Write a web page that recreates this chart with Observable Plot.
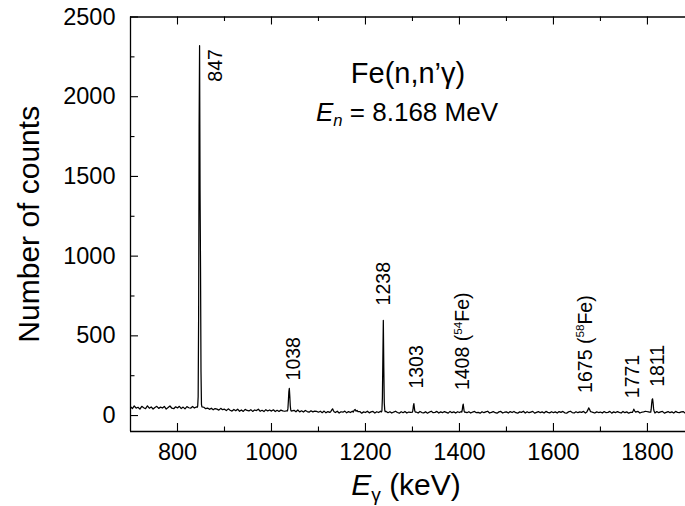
<!DOCTYPE html>
<html>
<head>
<meta charset="utf-8">
<script src="https://cdn.jsdelivr.net/npm/d3@7"></script>
<script src="https://cdn.jsdelivr.net/npm/@observablehq/plot@0.6"></script>
<style>
  html, body { margin: 0; padding: 0; background: #fff; overflow: hidden; }
  #chart svg { font-family: "Liberation Sans", Arial, Helvetica, sans-serif; }
</style>
</head>
<body>
<div id="chart"></div>
<script>
// Gamma-ray spectrum of Fe(n,n'γ) at En = 8.168 MeV.

// Background record: one value every bgStep keV starting at bgStart keV.
const bgStart = 700;
const bgStep = 4;
const bgCounts = [
  55,44,60,47,52,40,58,49,43,61,46,54,41,51,58,45,53,47,57,41,50,60,46,43,55,
  48,58,44,53,42,56,49,46,57,47,54,50,50,50,52,43,47,39,46,36,44,40,34,45,37,
  40,31,42,33,28,38,30,40,27,35,26,39,32,29,37,26,35,31,40,27,33,25,37,29,35,
  28,36,25,33,26,34,29,27,30,30,30,30,33,24,35,23,30,22,32,25,21,30,23,28,26,
  21,27,18,28,17,25,20,29,23,19,27,16,24,21,28,17,25,19,27,22,21,17,25,15,23,
  19,27,17,23,26,16,24,19,27,22,22,26,18,24,16,22,27,19,15,24,18,26,16,22,20,
  23,22,22,16,26,19,17,24,15,22,27,18,20,26,16,23,18,25,20,15,26,18,23,16,24,
  19,26,22,22,18,24,16,22,26,18,20,15,24,18,23,27,16,20,25,18,15,23,26,16,21,
  23,16,25,19,26,18,15,23,20,27,16,24,18,22,26,15,20,25,18,23,16,26,20,17,24,
  18,23,16,25,20,26,17,15,23,27,19,16,24,18,23,20,26,16,22,18,24,20,16,23,19,
  22,16,25,18,20,26,15,23,18,25,20,16,26,18,23,15,20,25,18,23,26,16,21,23,27,
  24,22,22,20,16,25,18,23,26,15,20,25,18,23,16,26,20,18,23,25,16,20,26,18,22
];

// Peak regions, channel by channel (energy in keV, counts)
const p847E  = [842, 843, 844, 845, 846, 847, 848, 849, 850, 851, 852];
const p847C  = [ 52,  60, 120, 640,1820,2320,1420, 930, 280,  70,  55];
const p1038E = [1034,1035,1036,1037,1038,1039,1040,1041,1042];
const p1038C = [  30,  45,  95, 150, 170, 120,  60,  35,  28];
const p1130E = [1126,1128,1130,1132,1134];
const p1130C = [  24,  34,  42,  30,  22];
const p1178E = [1174,1176,1178,1180,1182,1184];
const p1178C = [  22,  33,  38,  28,  32,  24];
const p1238E = [1234,1235,1236,1237,1238,1239,1240,1241,1242];
const p1238C = [  23,  30, 110, 354, 597, 300,  80,  35,  24];
const p1303E = [1300,1301,1302,1303,1304,1305,1306];
const p1303C = [  22,  35,  62,  75,  50,  28,  22];
const p1408E = [1405,1406,1407,1408,1409,1410,1411];
const p1408C = [  22,  36,  60,  72,  48,  27,  21];
const p1675E = [1671,1673,1675,1677,1679];
const p1675C = [  22,  34,  48,  38,  24];
const p1771E = [1768,1770,1771,1773,1775];
const p1771C = [  20,  32,  40,  28,  21];
const p1811E = [1807,1808,1809,1810,1811,1812,1813,1814,1815];
const p1811C = [  22,  40,  75, 100, 105,  80,  45,  28,  22];

// Labelled transitions
const lineEnergies = [847, 1038, 1238, 1303, 1408, 1675, 1771, 1811];
const lineLabels = ["847", "1038", "1238", "1303", "1408 (54Fe)", "1675 (58Fe)", "1771", "1811"];

// Axis ticks
const xMajor = [800, 1000, 1200, 1400, 1600, 1800];
const xMinor = [900, 1100, 1300, 1500, 1700];
const yMajor = [0, 500, 1000, 1500, 2000, 2500];
const yMinor = [250, 750, 1250, 1750, 2250];

// ---- assemble the spectrum ----
const peakSets = [
  [p847E, p847C], [p1038E, p1038C], [p1130E, p1130C], [p1178E, p1178C],
  [p1238E, p1238C], [p1303E, p1303C], [p1408E, p1408C], [p1675E, p1675C],
  [p1771E, p1771C], [p1811E, p1811C]
];
const spectrum = [];
bgCounts.forEach((c, i) => {
  const e = bgStart + i * bgStep;
  const inPeak = peakSets.some(([E]) => e >= E[0] && e <= E[E.length - 1]);
  if (!inPeak) spectrum.push({e, c});
});
peakSets.forEach(([E, C]) => E.forEach((e, i) => spectrum.push({e, c: C[i]})));
spectrum.sort((a, b) => a.e - b.e);

function peakTop(energy) {
  const set = peakSets.find(([E]) => energy >= E[0] && energy <= E[E.length - 1]);
  return d3.max(set[1]);
}
const lineData = lineEnergies.map((e, i) => ({e, c: peakTop(e), label: lineLabels[i]}));

// Label placement relative to each peak top (screen px)
const labelPlacement = [
  {e: 847,  dx: 16, dy: 36},
  {e: 1038, dx: 4,  dy: -8},
  {e: 1238, dx: 0,  dy: -15},
  {e: 1303, dx: 3,  dy: -15},
  {e: 1408, dx: 0,  dy: -14},
  {e: 1675, dx: -3, dy: -15},
  {e: 1771, dx: -1, dy: -11},
  {e: 1811, dx: 5,  dy: -12}
];

// Plot frame geometry
const W = 685, H = 506;
const mLeft = 130, mRight = 0, mTop = 16.5, mBottom = 75;
const frameW = W - mLeft - mRight;
const frameH = H - mTop - mBottom;

// Inward tick marks: frame-spanning ticks inset down to a short stub at the edge
const major = 8, minor = 4.5;
const tk = {stroke: "black", strokeWidth: 1.1};
const frameTicks = [
  Plot.tickX(xMajor, {...tk, insetTop: frameH - major}),
  Plot.tickX(xMinor, {...tk, insetTop: frameH - minor}),
  Plot.tickX(xMajor, {...tk, insetBottom: frameH - major}),
  Plot.tickX(xMinor, {...tk, insetBottom: frameH - minor}),
  Plot.tickY(yMajor, {...tk, insetRight: frameW - major}),
  Plot.tickY(yMinor, {...tk, insetRight: frameW - minor})
];

const chart = Plot.plot({
  width: W,
  height: H,
  marginLeft: mLeft,
  marginRight: mRight,
  marginTop: mTop,
  marginBottom: mBottom,
  style: {fontSize: "23.5px", color: "black", background: "white"},
  x: {domain: [700, 1881]},
  y: {domain: [-100, 2500]},
  marks: [
    Plot.line(spectrum, {x: "e", y: "c", stroke: "black", strokeWidth: 1.25, clip: true}),
    ...frameTicks,
    Plot.axisX({ticks: xMajor, tickSize: 0, tickPadding: 12, tickFormat: d => String(d), label: null}),
    Plot.axisY({ticks: yMajor, tickSize: 0, tickPadding: 15, tickFormat: d => String(d), label: null}),
    Plot.ruleX([700], {stroke: "black", strokeWidth: 1.3}),
    Plot.ruleY([-100, 2500], {stroke: "black", strokeWidth: 1.3}),
    ...labelPlacement.map(p => Plot.text(lineData, {
      filter: d => d.e === p.e,
      x: "e", y: "c", text: "label",
      rotate: -90, textAnchor: "start", lineAnchor: "middle",
      dx: p.dx, dy: p.dy, fontSize: 19.5, fill: "black"
    })),
    Plot.text(["Fe(n,n’γ)"], {frameAnchor: "top", lineAnchor: "bottom", dx: 0, dy: 66, fontSize: 29, fill: "black"}),
    Plot.text(["En = 8.168 MeV"], {frameAnchor: "top", lineAnchor: "bottom", dx: -1, dy: 104, fontSize: 26, fill: "black"}),
    Plot.text(["Eγ (keV)"], {frameAnchor: "bottom", lineAnchor: "bottom", dx: -2, dy: 63, fontSize: 30, fill: "black"}),
    Plot.text(["Number of counts"], {frameAnchor: "left", textAnchor: "middle", lineAnchor: "bottom", rotate: -90, dx: -92, fontSize: 30, fill: "black"})
  ]
});

document.getElementById("chart").appendChild(chart);

// Italic symbols, subscripts and superscripts
const richText = {
  "En = 8.168 MeV": [["E", "i"], ["n", "isub"], [" = 8.168 MeV", ""]],
  "Eγ (keV)": [["E", "i"], ["γ", "sub"], [" (keV)", ""]],
  "1408 (54Fe)": [["1408 (", ""], ["54", "sup"], ["Fe)", ""]],
  "1675 (58Fe)": [["1675 (", ""], ["58", "sup"], ["Fe)", ""]]
};
d3.select(chart).selectAll("text").each(function () {
  const parts = richText[this.textContent];
  if (!parts) return;
  const size = parseFloat(getComputedStyle(this).fontSize);
  const t = d3.select(this);
  t.text(null);
  let shift = 0;
  for (const [str, kind] of parts) {
    const ts = t.append("tspan").text(str);
    let target = 0;
    if (kind.includes("sub")) { target = 0.2 * size; ts.attr("font-size", 0.64 * size); }
    if (kind.includes("sup")) { target = -0.4 * size; ts.attr("font-size", 0.6 * size); }
    if (kind.startsWith("i")) ts.attr("font-style", "italic");
    if (target !== shift) { ts.attr("dy", target - shift); shift = target; }
  }
});
</script>
</body>
</html>
